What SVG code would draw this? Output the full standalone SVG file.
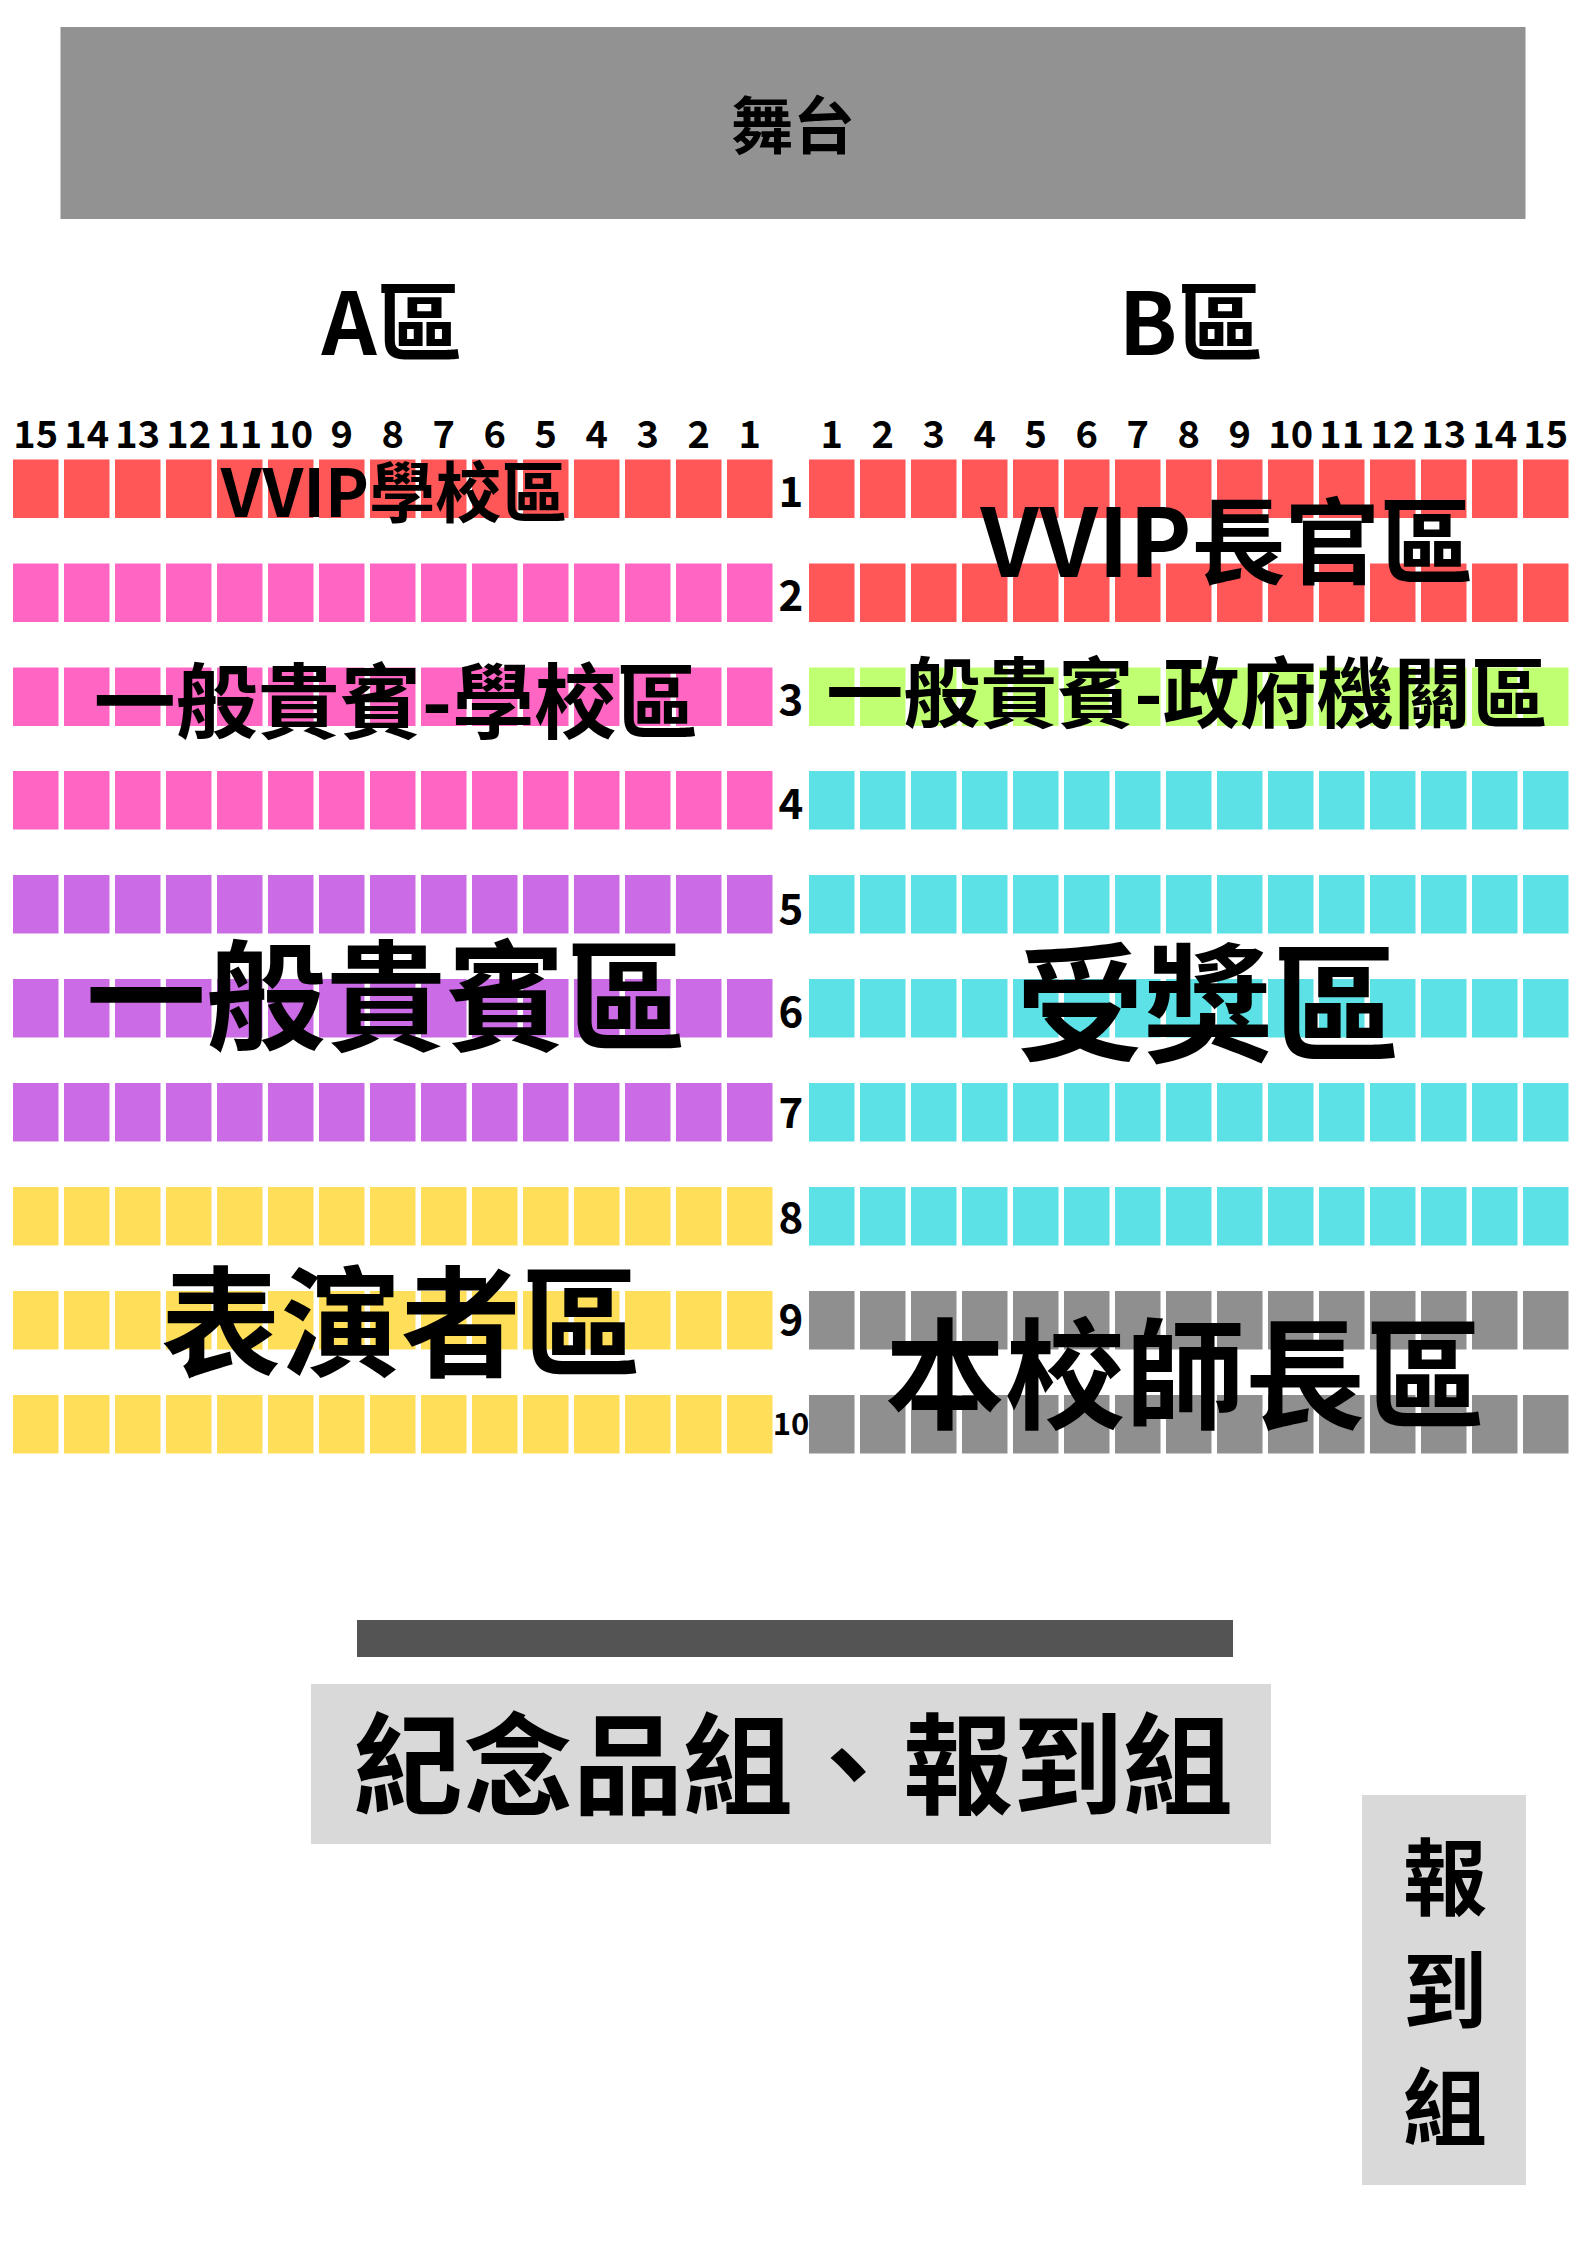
<svg xmlns="http://www.w3.org/2000/svg" xmlns:xlink="http://www.w3.org/1999/xlink" width="1587" height="2245" viewBox="0 0 1587 2245">
<style>
text{font-family:"Noto Sans CJK TC","Noto Sans CJK SC","Noto Sans",sans-serif;font-weight:700;fill:#000;text-anchor:middle}
.col{font-size:38px}
.rown{font-size:42px}
.red{fill:#FF5757}.pink{fill:#FF66C4}.purple{fill:#CB6CE6}.yellow{fill:#FFDE59}.cyan{fill:#5CE1E6}.lime{fill:#C1FF72}.gray{fill:#8F8F8F}
</style>
<defs>
<g id="seatRow">
<rect x="0" y="0" width="45.5" height="58.5"/><rect x="51" y="0" width="45.5" height="58.5"/><rect x="102" y="0" width="45.5" height="58.5"/><rect x="153" y="0" width="45.5" height="58.5"/><rect x="204" y="0" width="45.5" height="58.5"/><rect x="255" y="0" width="45.5" height="58.5"/><rect x="306" y="0" width="45.5" height="58.5"/><rect x="357" y="0" width="45.5" height="58.5"/><rect x="408" y="0" width="45.5" height="58.5"/><rect x="459" y="0" width="45.5" height="58.5"/><rect x="510" y="0" width="45.5" height="58.5"/><rect x="561" y="0" width="45.5" height="58.5"/><rect x="612" y="0" width="45.5" height="58.5"/><rect x="663" y="0" width="45.5" height="58.5"/><rect x="714" y="0" width="45.5" height="58.5"/>
</g>
</defs>
<rect width="1587" height="2245" fill="#fff"/>
<g id="stage">
<rect x="60.5" y="27" width="1465" height="192" fill="#929292"/>
<text x="793" y="149" font-size="62">舞台</text>
</g>
<g id="zone-titles">
<text x="392" y="355" font-size="86">A區</text>
<text x="1191" y="355" font-size="86">B區</text>
</g>
<g id="column-numbers">
<text class="col" x="35.75" y="448">15</text><text class="col" x="86.75" y="448">14</text><text class="col" x="137.75" y="448">13</text><text class="col" x="188.75" y="448">12</text><text class="col" x="239.75" y="448">11</text><text class="col" x="290.75" y="448">10</text><text class="col" x="341.75" y="448">9</text><text class="col" x="392.75" y="448">8</text><text class="col" x="443.75" y="448">7</text><text class="col" x="494.75" y="448">6</text><text class="col" x="545.75" y="448">5</text><text class="col" x="596.75" y="448">4</text><text class="col" x="647.75" y="448">3</text><text class="col" x="698.75" y="448">2</text><text class="col" x="749.75" y="448">1</text>
<text class="col" x="831.75" y="448">1</text><text class="col" x="882.75" y="448">2</text><text class="col" x="933.75" y="448">3</text><text class="col" x="984.75" y="448">4</text><text class="col" x="1035.75" y="448">5</text><text class="col" x="1086.75" y="448">6</text><text class="col" x="1137.75" y="448">7</text><text class="col" x="1188.75" y="448">8</text><text class="col" x="1239.75" y="448">9</text><text class="col" x="1290.75" y="448">10</text><text class="col" x="1341.75" y="448">11</text><text class="col" x="1392.75" y="448">12</text><text class="col" x="1443.75" y="448">13</text><text class="col" x="1494.75" y="448">14</text><text class="col" x="1545.75" y="448">15</text>
</g>
<g id="seats-A">
<use xlink:href="#seatRow" href="#seatRow" x="13" y="459.5" class="red"/>
<use xlink:href="#seatRow" href="#seatRow" x="13" y="563.5" class="pink"/>
<use xlink:href="#seatRow" href="#seatRow" x="13" y="667.5" class="pink"/>
<use xlink:href="#seatRow" href="#seatRow" x="13" y="771" class="pink"/>
<use xlink:href="#seatRow" href="#seatRow" x="13" y="875" class="purple"/>
<use xlink:href="#seatRow" href="#seatRow" x="13" y="979" class="purple"/>
<use xlink:href="#seatRow" href="#seatRow" x="13" y="1083" class="purple"/>
<use xlink:href="#seatRow" href="#seatRow" x="13" y="1187" class="yellow"/>
<use xlink:href="#seatRow" href="#seatRow" x="13" y="1291" class="yellow"/>
<use xlink:href="#seatRow" href="#seatRow" x="13" y="1395" class="yellow"/>
</g>
<g id="seats-B">
<use xlink:href="#seatRow" href="#seatRow" x="809" y="459.5" class="red"/>
<use xlink:href="#seatRow" href="#seatRow" x="809" y="563.5" class="red"/>
<use xlink:href="#seatRow" href="#seatRow" x="809" y="667.5" class="lime"/>
<use xlink:href="#seatRow" href="#seatRow" x="809" y="771" class="cyan"/>
<use xlink:href="#seatRow" href="#seatRow" x="809" y="875" class="cyan"/>
<use xlink:href="#seatRow" href="#seatRow" x="809" y="979" class="cyan"/>
<use xlink:href="#seatRow" href="#seatRow" x="809" y="1083" class="cyan"/>
<use xlink:href="#seatRow" href="#seatRow" x="809" y="1187" class="cyan"/>
<use xlink:href="#seatRow" href="#seatRow" x="809" y="1291" class="gray"/>
<use xlink:href="#seatRow" href="#seatRow" x="809" y="1395" class="gray"/>
</g>
<g id="row-numbers">
<text class="rown" x="791" y="507">1</text>
<text class="rown" x="791" y="611">2</text>
<text class="rown" x="791" y="715">3</text>
<text class="rown" x="791" y="819">4</text>
<text class="rown" x="791" y="924">5</text>
<text class="rown" x="791" y="1027">6</text>
<text class="rown" x="791" y="1128">7</text>
<text class="rown" x="791" y="1233">8</text>
<text class="rown" x="791" y="1335">9</text>
<text x="791" y="1435" font-size="31">10</text>
</g>
<g id="zone-labels">
<text x="394" y="517" font-size="66">VVIP學校區</text>
<text x="1227" y="577" font-size="94">VVIP長官區</text>
<text x="396" y="732" font-size="82">一般貴賓-學校區</text>
<text x="1187" y="722" font-size="77">一般貴賓-政府機關區</text>
<text x="386" y="1042" font-size="120">一般貴賓區</text>
<text x="1208" y="1052" font-size="128">受獎區</text>
<text x="401" y="1368" font-size="120">表演者區</text>
<text x="1185" y="1420" font-size="120">本校師長區</text>
</g>
<g id="bar">
<rect x="357" y="1620" width="876" height="37" fill="#545454"/>
</g>
<g id="souvenir-desk">
<rect x="311" y="1684" width="960" height="160" fill="#D9D9D9"/>
<text x="793" y="1806" font-size="110">紀念品組、報到組</text>
</g>
<g id="checkin-desk">
<rect x="1362" y="1795" width="164" height="390" fill="#D9D9D9"/>
<text x="1445" y="1909" font-size="84">報</text>
<text x="1445" y="2022" font-size="84">到</text>
<text x="1445" y="2139" font-size="84">組</text>
</g>
</svg>
